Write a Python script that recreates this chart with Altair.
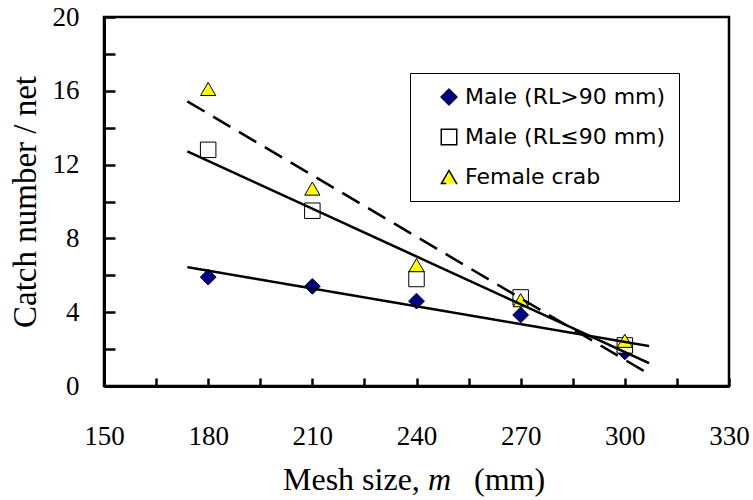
import altair as alt
import pandas as pd

# Mesh sizes (mm) and mean catch per net for each group
mesh = [180, 210, 240, 270, 300]
male_large = [5.9, 5.4, 4.6, 3.85, 1.85]
male_small = [12.8, 9.5, 5.8, 4.8, 2.2]
female = [16.1, 10.7, 6.55, 4.65, 2.45]

series_names = ["Male (RL>90 mm)", "Male (RL≤90 mm)", "Female crab"]
fill_colors = ["#000080", "#ffffff", "#ffff00"]
stroke_colors = ["#000040", "#000000", "#000000"]
shapes = ["diamond", "square", "triangle-up"]
marker_sizes = [250, 230, 330]

x_major = [150, 180, 210, 240, 270, 300, 330]
x_minor = list(range(150, 331, 15))
y_major = [0, 4, 8, 12, 16, 20]
y_minor = list(range(0, 21, 2))

rows = []
for name, vals in zip(series_names, [male_large, male_small, female]):
    for m, v in zip(mesh, vals):
        rows.append({"mesh": m, "catch": v, "series": name})
df = pd.DataFrame(rows)

W, H = 625, 369
SERIF = "Liberation Serif"
X_TICK, Y_TICK = 8, 11

x_scale = alt.Scale(domain=[150, 330], nice=False, zero=False)
y_scale = alt.Scale(domain=[0, 20], nice=False)

legend = alt.Legend(
    title=None,
    orient="none",
    legendX=306,
    legendY=56,
    direction="vertical",
    strokeColor="black",
    fillColor="white",
    padding=13,
    symbolOffset=15,
    labelFont="DejaVu Sans",
    labelFontSize=22,
    labelColor="black",
    labelOffset=5,
    rowPadding=18,
    labelLimit=400,
)

# Labelled axes (no ticks); ticks are drawn inward by a second axis set below
points = alt.Chart(df).mark_point(filled=True, strokeWidth=1, opacity=1).encode(
    x=alt.X(
        "mesh:Q",
        scale=x_scale,
        axis=alt.Axis(
            orient="bottom", values=x_major, ticks=False, labelAlign="center",
            labelBaseline="top", domainWidth=3, domainColor="black", labelFont=SERIF,
            labelFontSize=27, labelColor="black", labelFlush=False, labelOverlap=False,
            title=None, grid=False,
        ),
    ),
    y=alt.Y(
        "catch:Q",
        scale=y_scale,
        axis=alt.Axis(
            orient="left", values=y_major, ticks=False, labelAlign="right",
            labelBaseline="middle", domainWidth=3, domainColor="black", labelFont=SERIF,
            labelFontSize=27, labelColor="black", labelFlush=False, labelOverlap=False,
            title=None, grid=False,
        ),
    ),
    fill=alt.Fill("series:N", scale=alt.Scale(domain=series_names, range=fill_colors), legend=legend),
    stroke=alt.Stroke("series:N", scale=alt.Scale(domain=series_names, range=stroke_colors), legend=legend),
    shape=alt.Shape("series:N", scale=alt.Scale(domain=series_names, range=shapes), legend=legend),
    size=alt.Size("series:N", scale=alt.Scale(domain=series_names, range=marker_sizes), legend=legend),
)

# Least-squares trend lines; this layer also carries the inward tick marks
# (axes pulled into the plot by their own tick length)
lines = alt.Chart(df).transform_regression(
    "mesh", "catch", groupby=["series"], extent=[174, 307]
).mark_line(color="black", strokeWidth=2.5).encode(
    x=alt.X(
        "mesh:Q",
        scale=x_scale,
        axis=alt.Axis(
            orient="bottom", offset=-X_TICK, values=x_minor, ticks=True, tickSize=X_TICK,
            tickWidth=2.5, tickColor="black", labels=False, domain=False, title=None, grid=False,
        ),
    ),
    y=alt.Y(
        "catch:Q",
        scale=y_scale,
        axis=alt.Axis(
            orient="left", offset=-Y_TICK, values=y_minor, ticks=True, tickSize=Y_TICK,
            tickWidth=2.5, tickColor="black", labels=False, domain=False, title=None, grid=False,
        ),
    ),
    strokeDash=alt.StrokeDash(
        "series:N",
        scale=alt.Scale(domain=series_names, range=[[1, 0], [1, 0], [20, 10]]),
        legend=None,
    ),
    detail="series:N",
)

# Axis titles drawn as text so the x title can carry an italic symbol
one = alt.Data(values=[{}])
title_style = dict(align="left", baseline="alphabetic", font=SERIF, fontSize=32, color="black")
t1 = alt.Chart(one).mark_text(**title_style).encode(
    x=alt.value(179), y=alt.value(473), text=alt.value("Mesh size,")
)
t2 = alt.Chart(one).mark_text(fontStyle="italic", **title_style).encode(
    x=alt.value(324), y=alt.value(473), text=alt.value("m")
)
t3 = alt.Chart(one).mark_text(**title_style).encode(
    x=alt.value(370), y=alt.value(473), text=alt.value("(mm)")
)
ty = alt.Chart(one).mark_text(
    align="center", baseline="alphabetic", angle=270, font=SERIF, fontSize=33, color="black"
).encode(x=alt.value(-68), y=alt.value(185), text=alt.value("Catch number / net"))

chart = (
    alt.layer(points, lines, t1, t2, t3, ty)
    .resolve_axis(x="independent", y="independent")
    .properties(
        width=W,
        height=H,
        autosize=alt.AutoSizeParams(type="none"),
        padding={"left": 104, "top": 17, "right": 24, "bottom": 114},
    )
    .configure_view(stroke="black", strokeWidth=2.5)
    .configure_axis(grid=False)
    .configure_axisLeft(labelPadding=25)
    .configure_axisBottom(labelPadding=37)
)

chart.save("out.html", embed_options={"renderer": "svg", "actions": False})
